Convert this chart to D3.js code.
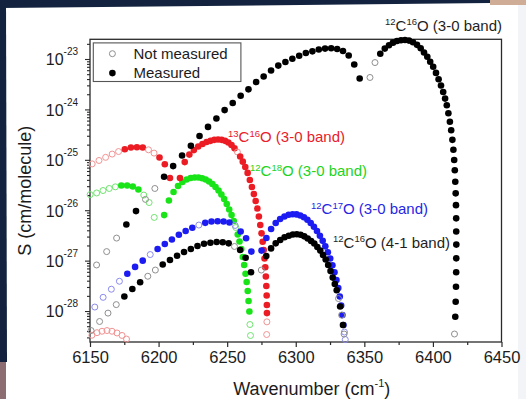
<!DOCTYPE html>
<html>
<head>
<meta charset="utf-8">
<script src="https://cdn.jsdelivr.net/npm/d3@7"></script>
<style>
  html, body { margin: 0; padding: 0; background: #ffffff; }
  svg { display: block; font-family: "Liberation Sans", Arial, Helvetica, sans-serif; }
</style>
</head>
<body>
<svg id="chart" width="526" height="399"></svg>
<script>
// Line intensities S (cm/molecule) against wavenumber (cm-1).
// For every band: line positions, intensities, and 1 = measured / 0 = not measured.

// 12C16O (3-0 band): P branch (high J -> low J) followed by R branch
const c12o16v30Wn = [
  6154.80, 6162.15, 6169.39, 6176.51, 6183.54, 6190.44, 6197.28, 6204.00, 6210.61, 6217.12,
  6223.54, 6229.84, 6236.04, 6242.15, 6248.15, 6254.05, 6259.84, 6265.53, 6271.12, 6276.61,
  6282.00, 6287.28, 6292.45, 6297.53, 6302.50, 6307.37, 6312.14, 6316.81, 6321.37, 6325.83,
  6330.19, 6334.44, 6338.60, 6342.65, 6346.60,
  6354.13, 6357.77, 6361.63, 6364.92, 6367.98, 6370.90, 6373.81, 6376.73, 6379.65, 6382.57,
  6385.48, 6388.40, 6391.09, 6393.50, 6395.90, 6398.02, 6400.20, 6402.24, 6404.14, 6405.89,
  6407.49, 6408.88, 6410.12, 6411.28, 6412.38, 6413.32, 6414.20, 6414.93, 6415.51, 6415.95,
  6416.31, 6416.60, 6416.82, 6416.97, 6417.00, 6417.06, 6417.02, 6416.97, 6416.82, 6416.60,
  6416.31, 6415.73
];
const c12o16v30S = [
  8.2e-28, 1.51e-27, 2.8e-27, 5.2e-27, 9.6e-27, 1.64e-26, 2.7e-26, 4.6e-26, 7.5e-26, 1.22e-25,
  1.9e-25, 2.96e-25, 4.5e-25, 6.6e-25, 9.7e-25, 1.34e-24, 1.87e-24, 2.5e-24, 3.5e-24, 4.5e-24,
  5.9e-24, 7.4e-24, 8.7e-24, 1.01e-23, 1.16e-23, 1.32e-23, 1.42e-23, 1.54e-23, 1.61e-23, 1.63e-23,
  1.58e-23, 1.44e-23, 1.17e-23, 7.8e-24, 4.1e-24,
  4.3e-24, 8.5e-24, 1.27e-23, 1.61e-23, 1.88e-23, 2.11e-23, 2.28e-23, 2.36e-23, 2.38e-23, 2.32e-23,
  2.15e-23, 1.91e-23, 1.63e-23, 1.35e-23, 1.11e-23, 8.8e-24, 7.0e-24, 5.3e-24, 3.97e-24, 2.98e-24,
  2.21e-24, 1.64e-24, 1.21e-24, 8.4e-25, 5.7e-25, 3.87e-25, 2.49e-25, 1.58e-25, 9.9e-26, 6.2e-26,
  3.66e-26, 2.16e-26, 1.26e-26, 6.9e-27, 3.78e-27, 2.08e-27, 1.11e-27, 5.9e-28, 3.03e-28, 1.53e-28,
  7.7e-29, 3.5e-29
];
const c12o16v30Measured = [
  0, 0, 0, 1, 1, 0, 0, 1, 1, 1,
  1, 1, 1, 1, 1, 1, 1, 1, 1, 1,
  1, 1, 1, 1, 1, 1, 1, 1, 1, 1,
  1, 1, 1, 1, 1,
  0, 0, 1, 1, 1, 1, 1, 1, 1, 1,
  1, 1, 1, 1, 1, 1, 1, 1, 1, 1,
  1, 1, 1, 1, 1, 1, 1, 1, 1, 1,
  1, 1, 1, 1, 1, 1, 1, 1, 1, 1,
  1, 0
];

// 12C16O (4-1 band)
const c12o16v41Wn = [
  6150.78, 6157.00, 6163.12, 6169.14, 6175.05, 6180.86, 6186.55, 6192.15, 6197.64, 6203.03,
  6208.30, 6213.48, 6218.55, 6223.52, 6228.37, 6233.13, 6237.78, 6242.33, 6246.76, 6251.10,
  6255.33, 6259.46, 6263.47, 6267.39,
  6274.90, 6278.51, 6282.00, 6285.39, 6288.68, 6291.86, 6294.93, 6297.90, 6300.77, 6303.53,
  6306.18, 6308.74, 6311.18, 6313.52, 6315.75, 6317.88, 6319.91, 6321.83, 6323.64, 6325.35,
  6326.96, 6328.47, 6329.87, 6331.16, 6332.36, 6333.44, 6334.43, 6335.25
];
const c12o16v41S = [
  4.1e-29, 6.2e-29, 9.1e-29, 1.34e-28, 1.94e-28, 2.73e-28, 3.72e-28, 4.9e-28, 6.5e-28, 8.4e-28,
  1.03e-27, 1.25e-27, 1.48e-27, 1.70e-27, 1.95e-27, 2.16e-27, 2.26e-27, 2.34e-27, 2.31e-27, 2.20e-27,
  1.91e-27, 1.62e-27, 1.14e-27, 5.9e-28,
  6.5e-28, 1.23e-27, 1.75e-27, 2.20e-27, 2.56e-27, 2.90e-27, 3.12e-27, 3.30e-27, 3.34e-27, 3.25e-27,
  3.03e-27, 2.74e-27, 2.45e-27, 2.18e-27, 1.86e-27, 1.58e-27, 1.29e-27, 1.05e-27, 8.2e-28, 6.2e-28,
  4.6e-28, 3.44e-28, 2.59e-28, 1.77e-28, 1.23e-28, 8.3e-29, 5.3e-29, 3.5e-29
];
const c12o16v41Measured = [
  0, 0, 0, 0, 1, 1, 1, 0, 0, 1,
  1, 1, 1, 1, 1, 1, 1, 1, 1, 1,
  0, 1, 1, 1,
  0, 1, 1, 1, 1, 1, 1, 1, 1, 1,
  1, 1, 1, 1, 1, 1, 1, 1, 1, 1,
  1, 1, 1, 0, 1, 0, 1, 0
];

// 12C17O (3-0 band)
const c12o17v30Wn = [
  6153.50, 6159.58, 6165.56, 6171.44, 6177.20, 6182.87, 6188.45, 6193.92, 6199.29, 6204.54,
  6209.71, 6214.78, 6219.74, 6224.60, 6229.36, 6234.02, 6238.58, 6243.04, 6247.39, 6251.65,
  6255.80, 6259.85, 6263.80, 6267.65,
  6275.05, 6278.60, 6282.04, 6285.38, 6288.62, 6291.76, 6294.81, 6297.74, 6300.58, 6303.32,
  6305.95, 6308.49, 6310.92, 6313.25, 6315.48, 6317.61, 6319.64, 6321.56, 6323.39, 6325.11,
  6326.73, 6328.25, 6329.67, 6331.00, 6332.10, 6333.10, 6334.00, 6334.80, 6335.50, 6336.10
];
const c12o17v30S = [
  1.20e-28, 1.87e-28, 2.71e-28, 3.90e-28, 5.5e-28, 7.5e-28, 1.00e-27, 1.32e-27, 1.70e-27, 2.13e-27,
  2.62e-27, 3.25e-27, 3.87e-27, 4.48e-27, 5.08e-27, 5.62e-27, 5.97e-27, 6.05e-27, 5.97e-27, 5.70e-27,
  4.99e-27, 3.78e-27, 2.78e-27, 1.51e-27,
  1.58e-27, 2.81e-27, 4.24e-27, 5.57e-27, 6.68e-27, 7.50e-27, 8.11e-27, 8.33e-27, 8.26e-27, 7.85e-27,
  7.23e-27, 6.45e-27, 5.57e-27, 4.69e-27, 3.87e-27, 3.12e-27, 2.47e-27, 1.92e-27, 1.47e-27, 1.10e-27,
  8.1e-28, 5.9e-28, 4.12e-28, 2.86e-28, 1.94e-28, 1.29e-28, 8.3e-29, 5.3e-29, 3.83e-29, 2.72e-29
];
const c12o17v30Measured = [
  0, 0, 0, 0, 1, 1, 1, 0, 1, 1,
  1, 1, 1, 1, 0, 1, 1, 1, 1, 1,
  0, 1, 1, 1,
  1, 1, 1, 1, 1, 1, 1, 1, 1, 1,
  1, 1, 1, 1, 1, 1, 1, 1, 1, 1,
  1, 1, 1, 1, 1, 1, 1, 1, 0, 0
];

// 13C16O (3-0 band)
const c13o16v30Wn = [
  6151.59, 6156.54, 6161.40, 6166.16, 6170.82, 6175.38, 6179.84, 6184.20, 6188.46, 6192.64,
  6196.71, 6200.67, 6204.55, 6208.32,
  6215.58, 6219.06, 6222.44, 6225.72, 6228.91, 6231.99, 6234.99, 6237.88, 6240.67, 6243.37,
  6245.96, 6248.46, 6250.86, 6253.16, 6255.36, 6257.47, 6259.48, 6261.39, 6263.20, 6264.92,
  6266.53, 6268.05, 6269.46, 6270.78, 6272.00, 6273.12, 6274.14, 6275.07, 6275.89, 6276.62,
  6277.25, 6277.78, 6278.22, 6278.55, 6278.80, 6278.95, 6279.00, 6278.95, 6278.80
];
const c13o16v30S = [
  8.3e-26, 9.7e-26, 1.12e-25, 1.30e-25, 1.46e-25, 1.62e-25, 1.75e-25, 1.77e-25, 1.75e-25, 1.58e-25,
  1.36e-25, 1.11e-25, 8.15e-26, 4.36e-26,
  4.36e-26, 9.0e-26, 1.27e-25, 1.56e-25, 1.84e-25, 2.06e-25, 2.25e-25, 2.38e-25, 2.49e-25, 2.53e-25,
  2.49e-25, 2.38e-25, 2.20e-25, 1.97e-25, 1.69e-25, 1.43e-25, 1.16e-25, 9.2e-26, 7.2e-26, 5.5e-26,
  3.97e-26, 2.88e-26, 2.09e-26, 1.52e-26, 1.08e-26, 7.5e-27, 5.08e-27, 3.48e-27, 2.37e-27, 1.62e-27,
  1.10e-27, 7.4e-28, 4.84e-28, 3.13e-28, 2.03e-28, 1.32e-28, 9.1e-29, 6.1e-29, 3.42e-29
];
const c13o16v30Measured = [
  0, 0, 0, 0, 0, 1, 1, 1, 1, 0,
  0, 1, 1, 1,
  1, 1, 1, 1, 1, 1, 1, 1, 1, 1,
  1, 1, 1, 1, 1, 0, 1, 1, 1, 1,
  1, 1, 1, 1, 1, 1, 1, 1, 1, 1,
  1, 1, 1, 1, 1, 1, 1, 0, 0
];

// 13C16O weak lines near the bottom left (not measured)
const c13o16WeakWn = [6151.39, 6155.10, 6158.75, 6162.39, 6166.04, 6169.68, 6173.33, 6176.61];
const c13o16WeakS  = [3.31e-29, 3.72e-29, 3.97e-29, 4.10e-29, 3.97e-29, 3.67e-29, 3.28e-29, 2.78e-29];
const c13o16WeakMeasured = [0, 0, 0, 0, 0, 0, 0, 0];

// 12C18O (3-0 band)
const c12o18v30Wn = [
  6150.11, 6154.84, 6159.48, 6164.02, 6168.47, 6172.81, 6177.06, 6181.21, 6185.27, 6189.22,
  6193.08, 6196.84,
  6204.06, 6207.53, 6210.90, 6214.17, 6217.35, 6220.42, 6223.40, 6226.29, 6229.07, 6231.76,
  6234.34, 6236.83, 6239.22, 6241.51, 6243.71, 6245.80, 6247.80, 6249.70, 6251.50, 6253.20,
  6254.80, 6256.30, 6257.70, 6259.00, 6260.30, 6261.40, 6262.40, 6263.40, 6264.20, 6265.00,
  6265.60, 6266.20, 6266.60, 6267.00
];
const c12o18v30S = [
  2.04e-26, 2.20e-26, 2.46e-26, 2.70e-26, 2.91e-26, 3.09e-26, 3.09e-26, 2.95e-26, 2.58e-26, 2.00e-26,
  1.42e-26, 7.2e-27,
  8.0e-27, 1.56e-26, 2.30e-26, 3.02e-26, 3.63e-26, 4.07e-26, 4.36e-26, 4.46e-26, 4.46e-26, 4.30e-26,
  4.07e-26, 3.71e-26, 3.31e-26, 2.88e-26, 2.46e-26, 2.05e-26, 1.67e-26, 1.33e-26, 1.03e-26, 8.0e-27,
  6.1e-27, 4.54e-27, 3.30e-27, 2.39e-27, 1.70e-27, 1.18e-27, 8.2e-28, 5.5e-28, 3.76e-28, 2.49e-28,
  1.58e-28, 9.8e-29, 5.4e-29, 3.27e-29
];
const c12o18v30Measured = [
  0, 0, 0, 0, 0, 1, 1, 1, 1, 0,
  0, 0,
  1, 1, 1, 1, 1, 1, 1, 1, 1, 1,
  1, 1, 1, 1, 1, 1, 1, 1, 1, 1,
  1, 0, 1, 1, 1, 1, 1, 1, 1, 1,
  1, 1, 0, 0
];

// axis ticks
const xTickValues = [6150, 6200, 6250, 6300, 6350, 6400, 6450];
const xMinorValues = [6175, 6225, 6275, 6325, 6375, 6425];
const yDecades = [-28, -27, -26, -25, -24, -23];

// ---------------------------------------------------------------------------

const svg = d3.select("#chart");

// photo-slide surroundings
svg.append("rect").attr("x", 0).attr("y", 0).attr("width", 526).attr("height", 399).attr("fill", "#ffffff");
svg.append("polygon").attr("points", "0,0 490,0 490,3 0,8").attr("fill", "#13233f");
svg.append("rect").attr("x", 490).attr("y", 0).attr("width", 36).attr("height", 5).attr("fill", "#cfac95");
svg.append("polygon").attr("points", "0,0 6,0 7,362 0,362").attr("fill", "#13233f");
svg.append("rect").attr("x", 0).attr("y", 362).attr("width", 6).attr("height", 37).attr("fill", "#8b6d72");
svg.append("rect").attr("x", 518).attr("y", 5).attr("width", 8).attr("height", 394).attr("fill", "#f3f4f7");

const plot = { left: 90, right: 501.5, top: 39.3, bottom: 342 };

const x = d3.scaleLinear().domain([6150, 6450]).range([plot.left, plot.right]);
const y = d3.scaleLog().domain([2.43e-29, 2.46e-23]).range([plot.bottom, plot.top]);

const axisColor = "#2a2a2a";
const textColor = "#1c1c1c";

// x axis with outward ticks
const xAxis = svg.append("g").attr("transform", `translate(0,${plot.bottom})`)
  .call(d3.axisBottom(x).tickValues(xTickValues).tickSize(5).tickSizeOuter(0).tickPadding(4).tickFormat(d3.format("d")));
const xMinor = svg.append("g").attr("transform", `translate(0,${plot.bottom})`)
  .call(d3.axisBottom(x).tickValues(xMinorValues).tickSize(3).tickSizeOuter(0).tickFormat(""));
[xAxis, xMinor].forEach(g => {
  g.select(".domain").remove();
  g.selectAll("line").attr("stroke", axisColor).attr("stroke-width", 1.2);
});
xAxis.selectAll("text")
  .attr("fill", textColor)
  .style("font-size", "16.5px")
  .style("font-family", "'Liberation Sans', Arial, sans-serif");

// y axis: log ticks, decades long, the rest short
const yTicksAll = y.ticks();
const isDecade = v => Math.abs(Math.log10(v) - Math.round(Math.log10(v))) < 1e-6;
const yAxis = svg.append("g").attr("transform", `translate(${plot.left},0)`)
  .call(d3.axisLeft(y).tickValues(yTicksAll.filter(isDecade)).tickSize(5).tickSizeOuter(0).tickFormat(""));
const yMinor = svg.append("g").attr("transform", `translate(${plot.left},0)`)
  .call(d3.axisLeft(y).tickValues(yTicksAll.filter(v => !isDecade(v))).tickSize(3).tickSizeOuter(0).tickFormat(""));
[yAxis, yMinor].forEach(g => {
  g.select(".domain").remove();
  g.selectAll("line").attr("stroke", axisColor).attr("stroke-width", 1.1);
});

// decade labels 10^n
yDecades.forEach(p => {
  const t = svg.append("text")
    .attr("x", 78)
    .attr("y", y(Math.pow(10, p)) + 6.3)
    .attr("text-anchor", "end")
    .attr("fill", textColor)
    .style("font-size", "16px");
  t.append("tspan").text("10");
  t.append("tspan").attr("dy", -10).style("font-size", "10px").text(String(p));
});

// plot frame
svg.append("rect")
  .attr("x", plot.left).attr("y", plot.top)
  .attr("width", plot.right - plot.left).attr("height", plot.bottom - plot.top)
  .attr("fill", "none").attr("stroke", axisColor).attr("stroke-width", 1.3);

// axis titles
const xTitle = svg.append("text")
  .attr("x", (plot.left + plot.right) / 2 + 16)
  .attr("y", 394.5)
  .attr("text-anchor", "middle")
  .attr("fill", textColor)
  .style("font-size", "18px");
xTitle.append("tspan").text("Wavenumber (cm");
xTitle.append("tspan").attr("dy", -8).style("font-size", "11px").text("-1");
xTitle.append("tspan").attr("dy", 8).text(")");

svg.append("text")
  .attr("transform", `translate(31,${(plot.top + plot.bottom) / 2}) rotate(-90)`)
  .attr("text-anchor", "middle")
  .attr("fill", textColor)
  .style("font-size", "18px")
  .text("S (cm/molecule)");

// markers
const series = [
  { wn: c13o16WeakWn, s: c13o16WeakS, meas: c13o16WeakMeasured, fill: "#ec1c24", open: "#f29393" },
  { wn: c12o18v30Wn, s: c12o18v30S, meas: c12o18v30Measured, fill: "#18e418", open: "#6fe46f" },
  { wn: c13o16v30Wn, s: c13o16v30S, meas: c13o16v30Measured, fill: "#ec1c24", open: "#f29393" },
  { wn: c12o17v30Wn, s: c12o17v30S, meas: c12o17v30Measured, fill: "#1c1cf2", open: "#8a8af0" },
  { wn: c12o16v41Wn, s: c12o16v41S, meas: c12o16v41Measured, fill: "#000000", open: "#8f8f8f" },
  { wn: c12o16v30Wn, s: c12o16v30S, meas: c12o16v30Measured, fill: "#000000", open: "#8f8f8f" }
];

series.forEach(sr => {
  const pts = sr.wn.map((w, i) => ({ w: w, s: sr.s[i], m: sr.meas[i] }));
  svg.append("g").selectAll("circle")
    .data(pts)
    .join("circle")
    .attr("cx", d => x(d.w))
    .attr("cy", d => y(d.s))
    .attr("r", d => d.m ? 3.3 : 3.0)
    .attr("fill", d => d.m ? sr.fill : "none")
    .attr("stroke", d => d.m ? "none" : sr.open)
    .attr("stroke-width", 1);
});

// band labels with isotope superscripts
function bandLabel(px, py, massC, massO, band, color) {
  const t = svg.append("text").attr("x", px).attr("y", py).attr("fill", color).style("font-size", "15px");
  t.append("tspan").attr("dy", -5.5).style("font-size", "9.5px").text(massC);
  t.append("tspan").attr("dy", 5.5).text("C");
  t.append("tspan").attr("dy", -5.5).style("font-size", "9.5px").text(massO);
  t.append("tspan").attr("dy", 5.5).text("O (" + band + ")");
}
bandLabel(385, 30.5, "12", "16", "3-0 band", "#1e1e1e");
bandLabel(228, 142, "13", "16", "3-0 band", "#e8202a");
bandLabel(250, 176, "12", "18", "3-0 band", "#22d322");
bandLabel(311, 214, "12", "17", "3-0 band", "#2626e6");
bandLabel(333, 247.5, "12", "16", "4-1 band", "#1e1e1e");

// legend
const legend = svg.append("g");
legend.append("rect")
  .attr("x", 93.3).attr("y", 42.9).attr("width", 147.6).attr("height", 38.6)
  .attr("fill", "#ffffff").attr("stroke", "#555555").attr("stroke-width", 1.1);
legend.append("circle").attr("cx", 112.4).attr("cy", 53.7).attr("r", 3.0)
  .attr("fill", "none").attr("stroke", "#8f8f8f").attr("stroke-width", 1);
legend.append("circle").attr("cx", 112.4).attr("cy", 73.1).attr("r", 3.3).attr("fill", "#000000");
legend.append("text").attr("x", 133.5).attr("y", 58.8).attr("fill", textColor)
  .style("font-size", "15px").text("Not measured");
legend.append("text").attr("x", 133.5).attr("y", 78).attr("fill", textColor)
  .style("font-size", "15px").text("Measured");
</script>
</body>
</html>
